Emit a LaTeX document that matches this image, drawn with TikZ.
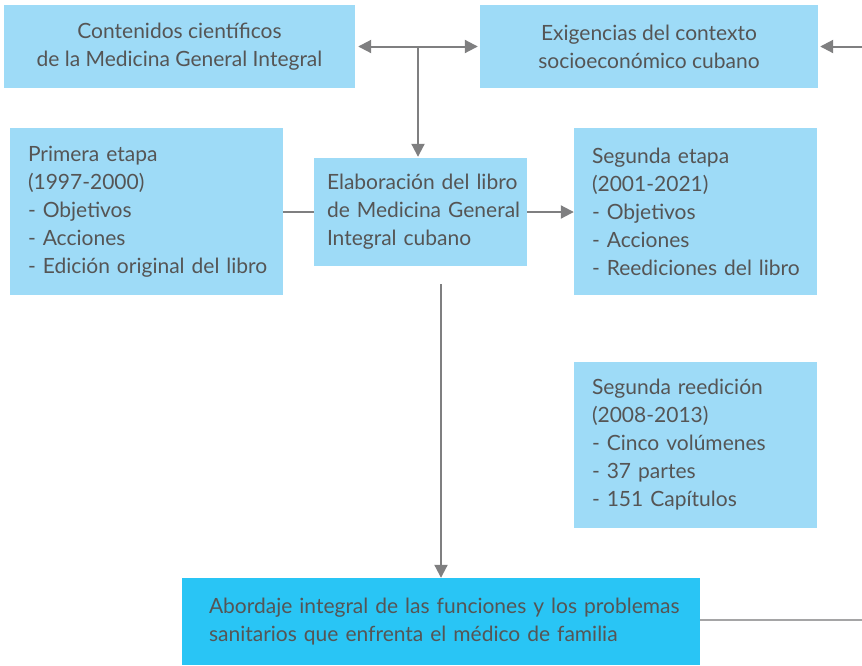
\documentclass[tikz,border=0pt]{standalone}
\usepackage{fontspec}
\setmainfont{Lato}
\usetikzlibrary{arrows.meta,calc}
\definecolor{lightbox}{HTML}{9EDBF7}
\definecolor{darkbox}{HTML}{29C5F5}
\definecolor{txt}{HTML}{555555}
\definecolor{conn}{HTML}{7F7F80}
\begin{document}
\begin{tikzpicture}[x=1pt,y=-1pt,
  box/.style={fill=lightbox, draw=none, text=txt, inner sep=0pt, font=\fontsize{21}{28}\selectfont},
  conn/.style={draw=conn, line width=2pt},
  tip/.style={-{Triangle[length=13pt,width=13pt]}}
]
\useasboundingbox (0,0) rectangle (862,665);
% boxes
\node[box, minimum width=351, minimum height=83, align=center] (c1) at (179.5,46.5)
  {Contenidos científicos\\de la Medicina General Integral};
\node[box, minimum width=338, minimum height=83, align=center] (c2) at (649,46.5)
  {Exigencias del contexto\\socioeconómico cubano};
\node[box, minimum height=167, inner xsep=18pt, text width=237, align=left] (p1) at (146.5,211.5)
  {\mbox{Primera etapa}\\\mbox{(1997-2000)}\\\mbox{- Objetivos}\\\mbox{- Acciones}\\\mbox{- Edición original del libro}};
\node[box, minimum height=108, inner xsep=13pt, text width=187, align=left] (el) at (420.5,212)
  {\mbox{Elaboración del libro}\\\mbox{de Medicina General}\\\mbox{Integral cubano}};
\node[box, minimum height=167, inner xsep=18pt, text width=207, align=left] (s1) at (695.5,211.5)
  {\mbox{Segunda etapa}\\\mbox{(2001-2021)}\\\mbox{- Objetivos}\\\mbox{- Acciones}\\\mbox{- Reediciones del libro}};
\node[box, minimum height=166, inner xsep=18pt, text width=207, align=left] (s2) at (695.5,445)
  {\mbox{Segunda reedición}\\\mbox{(2008-2013)}\\\mbox{- Cinco volúmenes}\\\mbox{- 37 partes}\\\mbox{- 151 Capítulos}};
\node[box, fill=darkbox, minimum height=87, inner xsep=27pt, text width=464, align=left] (ab) at (441,621.5)
  {\mbox{Abordaje integral de las funciones y los problemas}\\\mbox{sanitarios que enfrenta el médico de familia}};
% coordinates
\coordinate (m) at (418,46.5);
\coordinate (r) at (862,46.5);
\coordinate (vt) at (441,284);
\coordinate (br) at (862,620);
% connectors
\draw[conn, {Triangle[length=13pt,width=13pt]}-{Triangle[length=13pt,width=13pt]}, shorten <=3pt, shorten >=2pt] (c1.east) -- (c2.west);
\draw[conn, tip, shorten >=1pt] (m) -- (m |- el.north);
\draw[conn, tip, shorten >=2pt] (r) -- (c2.east);
\draw[conn] (p1.east |- el.west) -- (el.west);
\draw[conn, tip] (el.east) -- (s1.west |- el.east);
\draw[conn, tip] (vt) -- (vt |- ab.north);
\draw[conn, draw=conn!70] (ab.east |- br) -- (br);
\end{tikzpicture}
\end{document}
